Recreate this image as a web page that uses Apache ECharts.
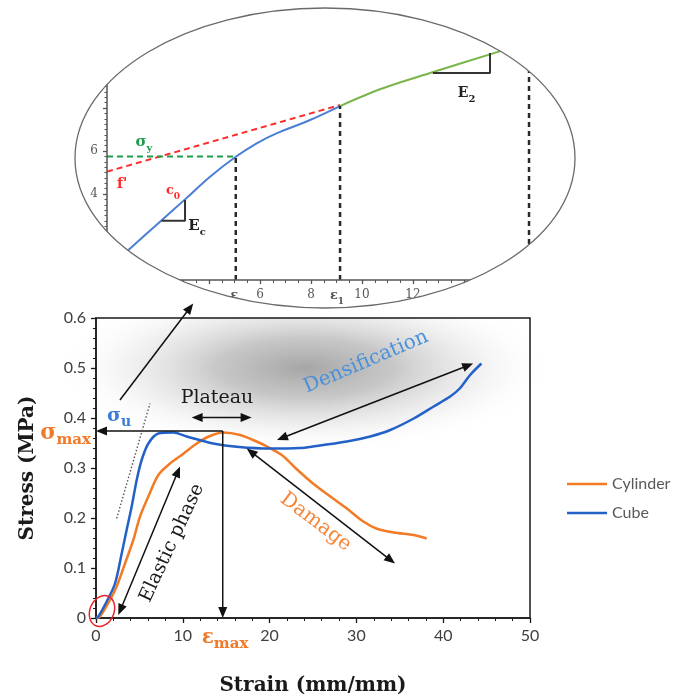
<!DOCTYPE html>
<html><head><meta charset="utf-8">
<script src="https://cdn.jsdelivr.net/npm/echarts@6/dist/echarts.min.js"></script>
<style>html,body{margin:0;padding:0;background:#fff}#c{width:688px;height:700px}</style>
</head><body><div id="c"></div><script>
// ---------- main chart data ----------
const mainXTicks = [0, 10, 20, 30, 40, 50];
const mainYTicks = [0, 0.1, 0.2, 0.3, 0.4, 0.5, 0.6];
const seriesNames = ['Cylinder', 'Cube'];
const cylinderStrain = [0, 0.46, 1.61, 2.38, 3.34, 4.3, 5.07, 6.03, 7.18, 8.53, 9.87, 11.6, 13.13, 14.67, 16.6, 18.5, 19.7, 21.4, 23.1, 25.0, 27.0, 28.9, 30.8, 32.3, 34.3, 36.6, 38.1];
const cylinderStress = [0, 0.003, 0.036, 0.063, 0.109, 0.156, 0.203, 0.243, 0.286, 0.309, 0.326, 0.349, 0.364, 0.371, 0.366, 0.353, 0.343, 0.326, 0.298, 0.269, 0.243, 0.219, 0.193, 0.179, 0.171, 0.166, 0.159];
const cubeStrain = [0, 0.27, 1.23, 2.19, 2.96, 3.53, 4.11, 4.69, 5.26, 6.03, 7.18, 8.9, 10.45, 13.5, 16.5, 20, 23.5, 25, 28.9, 31.6, 33.9, 36.6, 38.9, 40.8, 41.9, 43.1, 44.4];
const cubeStress = [0, 0.003, 0.033, 0.069, 0.129, 0.176, 0.223, 0.276, 0.316, 0.349, 0.369, 0.371, 0.363, 0.349, 0.342, 0.339, 0.340, 0.343, 0.353, 0.363, 0.376, 0.399, 0.423, 0.443, 0.459, 0.486, 0.509];

// annotation arrows (data coords of main chart): from, to, heads
const arrowFrom  = [[0, 0.374], [14.6, 0.374], [11.02, 0.401], [2.57, 0.006], [20.85, 0.356], [17.36, 0.339]];
const arrowTo    = [[14.6, 0.374], [14.6, 0], [17.93, 0.401], [9.68, 0.303], [43.45, 0.509], [34.45, 0.109]];
const arrowHeads = ['start', 'end', 'both', 'both', 'both', 'both'];
const insetPointerFrom = [2.76, 0.436];
const insetPointerTo = [11.2, 0.629];
const tangentFrom = [2.38, 0.199];
const tangentTo = [6.22, 0.429];
const shadeCenter = [24.1, 0.50];
const redMarkCenter = [0.69, 0.014];

// ---------- inset data ----------
const insetXTicks = [6, 8, 10, 12];
const insetYTicks = [4, 6];
const insetBlueX = [0.3, 0.84, 2.08, 3.06, 4.04, 5.05, 5.87, 6.65, 7.96, 9.14];
const insetBlueY = [0.85, 1.40, 2.71, 3.75, 4.80, 5.73, 6.36, 6.82, 7.44, 8.09];
const insetGreenX = [9.14, 10.7, 12.67, 15.3, 16.2];
const insetGreenY = [8.09, 8.87, 9.63, 10.6, 10.92];
const insetRedX = [0, 9.14];
const insetRedY = [5.04, 8.14];
const insetSigmaYX = [0, 5.05];
const insetSigmaYY = [5.74, 5.74];
const insetDropX = [5.05, 9.14, 16.55];
const insetDropTop = [5.73, 8.09, 12];
const ecX = [2.14, 3.06, 3.06];
const ecY = [2.76, 2.76, 3.72];
const e2X = [12.78, 15.02, 15.02];
const e2Y = [9.63, 9.63, 10.56];

const ORANGE = '#F37B25', BLUE = '#2461C7';
const zip = (a, b) => a.map((v, i) => [v, b[i]]);

const chart = echarts.init(document.getElementById('c'), null, {renderer: 'canvas'});

const insetSeries = [
  {data: zip(insetRedX, insetRedY), lineStyle: {color: '#FF2A2A', width: 2, type: [6, 4]}},
  {data: zip(insetSigmaYX, insetSigmaYY), lineStyle: {color: '#1E9E4A', width: 2, type: [6, 4]}},
  {data: zip(insetBlueX, insetBlueY), smooth: 0.3, lineStyle: {color: '#4A7FD6', width: 2}},
  {data: zip(insetGreenX, insetGreenY), smooth: 0.3, lineStyle: {color: '#79B54A', width: 2}},
  {data: zip(ecX, ecY), lineStyle: {color: '#333', width: 2}},
  {data: zip(e2X, e2Y), lineStyle: {color: '#333', width: 2}}
].concat(insetDropX.map((x, i) => ({data: [[x, 0], [x, insetDropTop[i]]], lineStyle: {color: '#2a2a2a', width: 2.5, type: [5, 4]}})))
 .map(s => Object.assign({type: 'line', xAxisIndex: 1, yAxisIndex: 1, symbol: 'none', showSymbol: false, silent: true, z: 2}, s));

const axisCol = '#1a1a1a';
const option = {
  animation: false,
  backgroundColor: '#fff',
  legend: {
    data: seriesNames, orient: 'vertical', left: 562, top: 471, itemGap: 13,
    icon: 'rect', itemWidth: 40, itemHeight: 2.5,
    textStyle: {fontFamily: 'Lato', fontSize: 16, color: '#595959'}
  },
  grid: [
    {left: 96, right: 158, top: 318, bottom: 82, show: true, borderColor: axisCol, borderWidth: 1.5, backgroundColor: 'transparent', z: 3, containLabel: false, outerBoundsMode: 'none'},
    {left: 107, right: 122, top: 22, bottom: 420, containLabel: false, outerBoundsMode: 'none'}
  ],
  xAxis: [
    {gridIndex: 0, type: 'value', min: mainXTicks[0], max: mainXTicks[mainXTicks.length - 1], interval: mainXTicks[1] - mainXTicks[0], z: 3,
     axisLine: {show: true, onZero: false, lineStyle: {color: axisCol, width: 1.5}},
     axisTick: {show: true, length: 5, lineStyle: {color: axisCol, width: 1.3}},
     minorTick: {show: true, splitNumber: 5, length: 3, lineStyle: {color: axisCol, width: 1}},
     splitLine: {show: false}, minorSplitLine: {show: false},
     axisLabel: {color: '#404040', fontSize: 16, fontFamily: 'Lato', margin: 10},
     name: 'Strain (mm/mm)', nameLocation: 'middle', nameGap: 58,
     nameTextStyle: {fontFamily: 'DejaVu Serif', fontWeight: 'bold', fontSize: 20, color: '#1a1a1a'}},
    {gridIndex: 1, type: 'value', min: 0, max: 18, interval: 2, z: 3,
     axisLine: {show: true, onZero: false, lineStyle: {color: '#555', width: 1.5}},
     axisTick: {show: true, length: 4, lineStyle: {color: '#555', width: 1.3}},
     minorTick: {show: true, splitNumber: 4, length: 3, lineStyle: {color: '#555', width: 1}},
     splitLine: {show: false}, minorSplitLine: {show: false},
     axisLabel: {color: '#555', fontSize: 12, fontFamily: 'DejaVu Serif', margin: 9,
       formatter: v => insetXTicks.includes(v) ? String(v) : ''}}
  ],
  yAxis: [
    {gridIndex: 0, type: 'value', min: mainYTicks[0], max: mainYTicks[mainYTicks.length - 1], interval: 0.1, z: 3,
     axisLine: {show: true, onZero: false, lineStyle: {color: axisCol, width: 1.5}},
     axisTick: {show: true, length: 5, lineStyle: {color: axisCol, width: 1.3}},
     minorTick: {show: true, splitNumber: 5, length: 3, lineStyle: {color: axisCol, width: 1}},
     splitLine: {show: false}, minorSplitLine: {show: false},
     axisLabel: {color: '#404040', fontSize: 16, fontFamily: 'Lato', margin: 10},
     name: 'Stress (MPa)', nameLocation: 'middle', nameGap: 58,
     nameTextStyle: {fontFamily: 'DejaVu Serif', fontWeight: 'bold', fontSize: 20, color: '#1a1a1a'}},
    {gridIndex: 1, type: 'value', min: 0, max: 12, interval: 2, z: 3,
     axisLine: {show: true, onZero: false, lineStyle: {color: '#555', width: 1.5}},
     axisTick: {show: true, length: 4, lineStyle: {color: '#555', width: 1.3}},
     minorTick: {show: true, splitNumber: 8, length: 2.5, lineStyle: {color: '#555', width: 1}},
     splitLine: {show: false}, minorSplitLine: {show: false},
     axisLabel: {color: '#555', fontSize: 12, fontFamily: 'DejaVu Serif', margin: 9,
       formatter: v => insetYTicks.includes(v) ? String(v) : ''}}
  ],
  series: [
    {name: seriesNames[0], type: 'line', xAxisIndex: 0, yAxisIndex: 0, data: zip(cylinderStrain, cylinderStress),
     symbol: 'none', showSymbol: false, smooth: 0.3, lineStyle: {color: ORANGE, width: 2.5}, itemStyle: {color: ORANGE}, z: 4},
    {name: seriesNames[1], type: 'line', xAxisIndex: 0, yAxisIndex: 0, data: zip(cubeStrain, cubeStress),
     symbol: 'none', showSymbol: false, smooth: 0.3, lineStyle: {color: BLUE, width: 2.5}, itemStyle: {color: BLUE}, z: 4}
  ].concat(insetSeries)
};
chart.setOption(option);

// ---------- annotations ----------
const P = p => chart.convertToPixel({gridIndex: 0}, p);
const Q = p => chart.convertToPixel({gridIndex: 1}, p);
const g = [];

// grey shading
const sc = P(shadeCenter);
g.push({type: 'circle', x: sc[0], y: sc[1], scaleY: 0.34, shape: {cx: 0, cy: 0, r: 250}, silent: true, z: 1,
  style: {fill: {type: 'radial', x: 0.5, y: 0.5, r: 0.5, colorStops: [
    {offset: 0, color: 'rgba(150,150,150,0.85)'}, {offset: 0.35, color: 'rgba(165,165,165,0.62)'},
    {offset: 0.7, color: 'rgba(205,205,205,0.28)'}, {offset: 1, color: 'rgba(255,255,255,0)'}]}}});
const tl = P([0, 0.6]);
g.push({type: 'rect', shape: {x: tl[0] + 1, y: tl[1] - 40, width: 520, height: 39.3}, style: {fill: '#fff'}, z: 1.5, silent: true});

function head(tip, base, color, z) {
  const dx = tip[0] - base[0], dy = tip[1] - base[1], L = Math.hypot(dx, dy);
  const ux = dx / L, uy = dy / L, hl = 11, hw = 4.5;
  return {type: 'polygon', z, silent: true, style: {fill: color},
    shape: {points: [[tip[0], tip[1]], [tip[0] - ux * hl - uy * hw, tip[1] - uy * hl + ux * hw], [tip[0] - ux * hl + uy * hw, tip[1] - uy * hl - ux * hw]]}};
}
function arrow(a, b, heads, color, z, w) {
  const dx = b[0] - a[0], dy = b[1] - a[1], L = Math.hypot(dx, dy), ux = dx / L, uy = dy / L;
  const s = (heads === 'start' || heads === 'both') ? 6 : 0;
  const e = (heads === 'end' || heads === 'both') ? 6 : 0;
  g.push({type: 'line', z, silent: true, shape: {x1: a[0] + ux * s, y1: a[1] + uy * s, x2: b[0] - ux * e, y2: b[1] - uy * e},
    style: {stroke: color, lineWidth: w || 1.5}});
  if (s) g.push(head(a, b, color, z));
  if (e) g.push(head(b, a, color, z));
}
arrowFrom.forEach((f, i) => arrow(P(f), P(arrowTo[i]), arrowHeads[i], '#111', 5));
arrow(P(insetPointerFrom), P(insetPointerTo), 'end', '#111', 12);
const t1 = P(tangentFrom), t2 = P(tangentTo);
g.push({type: 'line', z: 5, silent: true, shape: {x1: t1[0], y1: t1[1], x2: t2[0], y2: t2[1]}, style: {stroke: '#555', lineWidth: 1.4, lineDash: [1.5, 2]}});

// red circle near origin
const rc = P(redMarkCenter);
g.push({type: 'ellipse', x: rc[0], y: rc[1], rotation: -0.4, shape: {cx: 0, cy: 0, rx: 12, ry: 16}, style: {fill: 'none', stroke: '#E8262A', lineWidth: 1.5}, z: 5, silent: true});

function txt(pos, text, opts) {
  g.push(Object.assign({type: 'text', x: pos[0], y: pos[1], z: 6, silent: true,
    style: Object.assign({text, align: 'center', verticalAlign: 'middle'}, opts.style)}, opts.el || {}));
}
const serif = 'DejaVu Serif';
txt(P([13.94, 0.44]), 'Plateau', {style: {fontFamily: serif, fontSize: 19, fill: '#1a1a1a'}});
txt(P([8.76, 0.15]), 'Elastic phase', {style: {fontFamily: serif, fontSize: 19, fill: '#1a1a1a'}, el: {rotation: 65 * Math.PI / 180}});
txt(P([31.1, 0.512]), 'Densification', {style: {fontFamily: serif, fontSize: 20, fill: '#4A90DA'}, el: {rotation: 23 * Math.PI / 180}});
txt(P([25.3, 0.192]), 'Damage', {style: {fontFamily: serif, fontSize: 20, fill: '#F5863A'}, el: {rotation: -37 * Math.PI / 180}});
function sub(pos, main, low, color, big, small, align) {
  txt(pos, '{a|' + main + '}{b|' + low + '}', {style: {align: align || 'center', rich: {
    a: {fontFamily: serif, fontWeight: 'bold', fontSize: big, fill: color, lineHeight: big + 4, verticalAlign: 'top'},
    b: {fontFamily: serif, fontWeight: 'bold', fontSize: small, fill: color, lineHeight: small, verticalAlign: 'bottom'}}}});
}
sub(P([1.27, 0.40]), 'σ', 'u', '#3B7DD8', 19, 14, 'left');
sub(P([-0.58, 0.366]), 'σ', 'max', '#F07A2A', 22, 15, 'right');
sub(P([14.86, -0.044]), 'ε', 'max', '#F07A2A', 20, 15, 'center');

// inset labels
sub(Q([1.45, 6.33]), 'σ', 'y', '#1E9E4A', 15, 10, 'center');
txt(Q([0.59, 4.47]), "f'", {style: {fontFamily: serif, fontWeight: 'bold', fontSize: 14, fill: '#FF2A2A'}});
sub(Q([2.59, 4.05]), 'c', '0', '#FF2A2A', 13, 9, 'center');
sub(Q([3.53, 2.42]), 'E', 'c', '#222', 15, 10, 'center');
sub(Q([14.1, 8.6]), 'E', '2', '#222', 14, 10, 'center');
sub(Q([5.1, -0.8]), 'ε', 'c', '#555', 13, 9, 'center');
sub(Q([9.02, -0.8]), 'ε', '1', '#555', 13, 9, 'center');

// mask outside the inset ellipse + outline
const cx = 325, cy = 158, rx = 250, ry = 150, x0 = cx - rx - 4, x1 = cx + rx + 4, y0 = cy - ry - 4, y1 = cy + ry;
const pts = [[x0, cy], [x0, y0], [x1, y0], [x1, y1], [x0, y1], [x0, cy], [cx - rx, cy]];
const N = 240;
for (let i = 1; i <= N; i++) { const th = Math.PI - 2 * Math.PI * i / N; pts.push([cx + rx * Math.cos(th), cy + ry * Math.sin(th)]); }
g.push({type: 'polygon', shape: {points: pts}, style: {fill: '#fff'}, z: 10, silent: true});
g.push({type: 'ellipse', shape: {cx, cy, rx, ry}, style: {fill: 'none', stroke: '#6a6a6a', lineWidth: 1.3}, z: 11, silent: true});

chart.setOption({graphic: {elements: g}});
</script></body></html>
